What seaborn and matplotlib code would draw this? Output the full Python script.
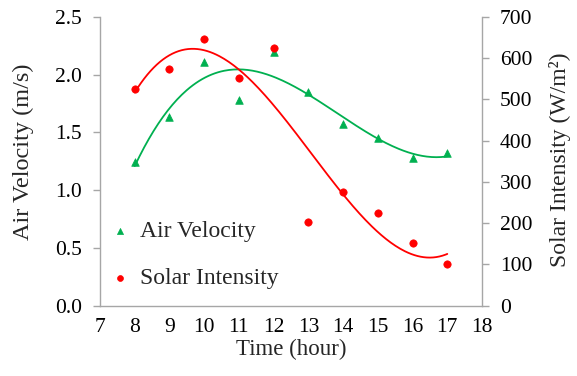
import numpy as np
import pandas as pd
import matplotlib
matplotlib.use("Agg")
import matplotlib.pyplot as plt
import seaborn as sns

hours = [8, 9, 10, 11, 12, 13, 14, 15, 16, 17]
air_velocity = [1.24, 1.63, 2.11, 1.78, 2.20, 1.85, 1.57, 1.45, 1.28, 1.32]
solar_intensity = [525, 573, 647, 551, 625, 204, 275, 225, 153, 100]

x_ticks = list(range(7, 19))
left_ticks = [0.0, 0.5, 1.0, 1.5, 2.0, 2.5]
right_ticks = [0, 100, 200, 300, 400, 500, 600, 700]

sns.set_theme(style="white")
plt.rcParams['font.family'] = ['Liberation Serif', 'DejaVu Serif']

green = "#00B050"
red = "#FF0000"
grey = "#A6A6A6"

fig = plt.figure(figsize=(5.77, 3.76), dpi=100)
ax = fig.add_axes([0.1733, 0.187, 0.8354 - 0.1733, 0.955 - 0.187])
ax2 = ax.twinx()

df = pd.DataFrame({"hour": hours, "air": air_velocity, "solar": solar_intensity})
xs = np.linspace(min(hours), max(hours), 200)
fit_air = np.polyval(np.polyfit(hours, air_velocity, 3), xs)
fit_solar = np.polyval(np.polyfit(hours, solar_intensity, 3), xs)

sns.lineplot(x=xs, y=fit_air, ax=ax, color=green, linewidth=1.3)
sns.scatterplot(data=df, x="hour", y="air", ax=ax, marker="^", color=green, s=30,
                edgecolor=green, linewidth=0.5, label="Air Velocity", legend=False, zorder=5)
sns.lineplot(x=xs, y=fit_solar, ax=ax2, color=red, linewidth=1.3)
sns.scatterplot(data=df, x="hour", y="solar", ax=ax2, marker="o", color=red, s=28,
                edgecolor=red, linewidth=0.5, label="Solar Intensity", legend=False, zorder=5)

ax.set_xlim(7, 18)
ax.set_ylim(0, 2.5)
ax2.set_ylim(0, 700)
ax.set_xticks(x_ticks)
ax.set_yticks(left_ticks)
ax.set_yticklabels([f"{v:.1f}" for v in left_ticks])
ax2.set_yticks(right_ticks)

for a in (ax, ax2):
    for s in a.spines.values():
        s.set_color(grey)
        s.set_linewidth(1.0)
    a.spines['top'].set_visible(False)
    a.tick_params(axis='both', which='both', direction='out', length=5, width=1.0,
                  color=grey, labelsize=15.5, labelcolor='black', pad=8)
ax.spines['right'].set_visible(False)
ax2.spines['left'].set_visible(False)
ax2.spines['bottom'].set_visible(False)
ax.tick_params(axis='x', length=5, pad=4)

ax.set_xlabel("Time (hour)", fontsize=16.5, labelpad=1)
ax.set_ylabel("Air Velocity (m/s)", fontsize=17.5)
ax2.set_ylabel("Solar Intensity (W/m²)", fontsize=17)
ax.yaxis.set_label_coords(-0.172, 0.532)
ax2.yaxis.set_label_coords(1.176, 0.505)

h1, l1 = ax.get_legend_handles_labels()
h2, l2 = ax2.get_legend_handles_labels()
ax.legend(h1 + h2, l1 + l2, loc="lower left", bbox_to_anchor=(-0.04, -0.015),
          frameon=False, fontsize=17, handletextpad=0.25, labelspacing=1.05,
          handlelength=1.2, markerscale=0.8)

fig.savefig("out.png", dpi=100)
